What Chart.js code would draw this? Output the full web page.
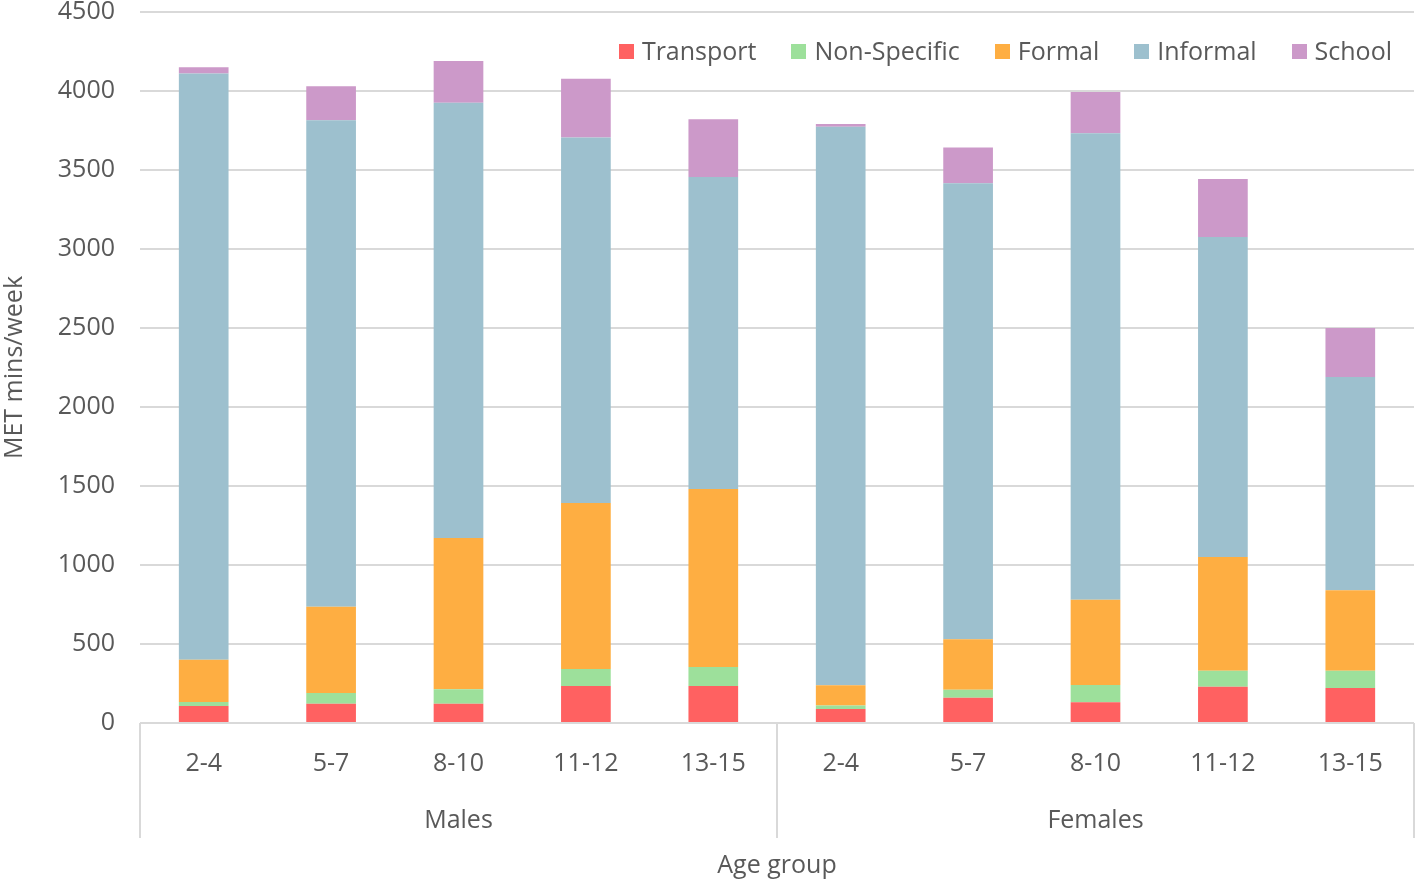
<!DOCTYPE html>
<html lang="en">
<head>
  <meta charset="UTF-8" />
  <title>MET mins/week by age group</title>
  <script src="https://cdn.jsdelivr.net/npm/chart.js"></script>
  <style>
    body {
      margin: 0;
      background: white;
      font-family: "Open Sans", sans-serif;
    }
    .wrap {
      position: relative;
      width: 1416px;
      height: 882px;
    }
    #legend {
      position: absolute;
      top: 33px;
      right: 24px;
      display: flex;
      gap: 35px;
      font-size: 25px;
      color: #595959;
    }
    #legend span.box {
      display: inline-block;
      width: 15px;
      height: 15px;
      margin-right: 8px;
      vertical-align: 1px;
    }
  </style>
</head>
<body>
<div class="wrap">
  <canvas id="chart"></canvas>
  <div id="legend"></div>
</div>

<script>
  const ageGroups = ['2-4', '5-7', '8-10', '11-12', '13-15', '2-4', '5-7', '8-10', '11-12', '13-15'];
  const sexes = ['Males', 'Females'];

  const transport   = [108, 122, 122, 234, 234,   89, 160, 131, 230, 222];
  const nonSpecific = [25,   68,  91, 108, 120,   21,  51, 110, 101, 109];
  const formal      = [268, 545, 958, 1050, 1127, 129, 319, 539, 720, 509];
  const informal    = [3710, 3080, 2754, 2313, 1975, 3535, 2886, 2952, 2025, 1350];
  const school      = [39,  215, 265, 373, 365,   17, 227, 262, 367, 310];

  const yTicks = { min: 0, max: 4500, step: 500 };

  const series = [
    { name: 'Transport', data: transport, colour: '#ff6161' },
    { name: 'Non-Specific', data: nonSpecific, colour: '#9de09b' },
    { name: 'Formal', data: formal, colour: '#feae42' },
    { name: 'Informal', data: informal, colour: '#9dc0ce' },
    { name: 'School', data: school, colour: '#cc99c9' }
  ];

  const grey = '#595959';
  const lineGrey = '#d9d9d9';
  const font = { family: '"Open Sans", sans-serif', size: 25 };

  // vertical lines splitting the Males / Females groups under the axis
  const groupLines = {
    id: 'groupLines',
    afterDraw(chart) {
      const x = chart.scales.x;
      const x2 = chart.scales.x2;
      const half = (x.getPixelForValue(1) - x.getPixelForValue(0)) / 2;
      const per = ageGroups.length / sexes.length;
      const c = chart.ctx;
      c.save();
      c.strokeStyle = lineGrey;
      c.lineWidth = 2;
      for (let i = 0; i <= sexes.length; i++) {
        const idx = Math.min(i * per, ageGroups.length - 1);
        let px = x.getPixelForValue(idx) + (i * per >= ageGroups.length ? half : -half);
        px = Math.round(px);
        c.beginPath();
        c.moveTo(px, chart.chartArea.bottom);
        c.lineTo(px, x2.top + 61);
        c.stroke();
      }
      c.restore();
    }
  };

  const ctx = document.getElementById('chart').getContext('2d');
  new Chart(ctx, {
    type: 'bar',
    data: {
      labels: ageGroups,
      datasets: series.map(s => ({
        label: s.name,
        data: s.data,
        backgroundColor: s.colour,
        borderWidth: 0,
        categoryPercentage: 1,
        barPercentage: 0.39
      }))
    },
    options: {
      responsive: true,
      maintainAspectRatio: false,
      animation: false,
      layout: { padding: { top: 12, right: 2, bottom: 0, left: 0 } },
      plugins: {
        legend: { display: false },
        tooltip: { enabled: false }
      },
      scales: {
        x: {
          stacked: true,
          weight: 0,
          afterFit(scale) { scale.height = 54; },
          grid: { display: false, drawTicks: false },
          border: { display: false },
          ticks: { color: grey, font: font, padding: 26, maxRotation: 0, autoSkip: false }
        },
        x2: {
          type: 'category',
          labels: sexes,
          position: 'bottom',
          offset: true,
          weight: 1,
          afterFit(scale) { scale.height = 105; },
          grid: { display: false, drawTicks: false },
          border: { display: false },
          ticks: { color: grey, font: font, padding: 29 },
          title: {
            display: true,
            text: 'Age group',
            color: grey,
            font: font,
            padding: { top: 17, bottom: 1 }
          }
        },
        y: {
          stacked: true,
          min: yTicks.min,
          max: yTicks.max,
          afterFit(scale) {
            scale.width = 140;
            scale.paddingTop = 12;
            scale.paddingBottom = 0;
          },
          grid: { color: lineGrey, lineWidth: 2, drawTicks: false },
          border: { display: false },
          ticks: {
            stepSize: yTicks.step,
            color: grey,
            font: { family: font.family, size: 25, lineHeight: 1 },
            padding: 25,
            callback: v => String(v)
          },
          title: {
            display: true,
            text: 'MET mins/week',
            color: grey,
            font: font,
            padding: { top: 0, bottom: 0 }
          }
        }
      }
    },
    plugins: [groupLines]
  });

  // legend drawn as html, over the plot area at top right
  const legend = document.getElementById('legend');
  series.forEach(s => {
    const item = document.createElement('div');
    item.innerHTML = '<span class="box" style="background:' + s.colour + '"></span>' + s.name;
    legend.appendChild(item);
  });
</script>
</body>
</html>
